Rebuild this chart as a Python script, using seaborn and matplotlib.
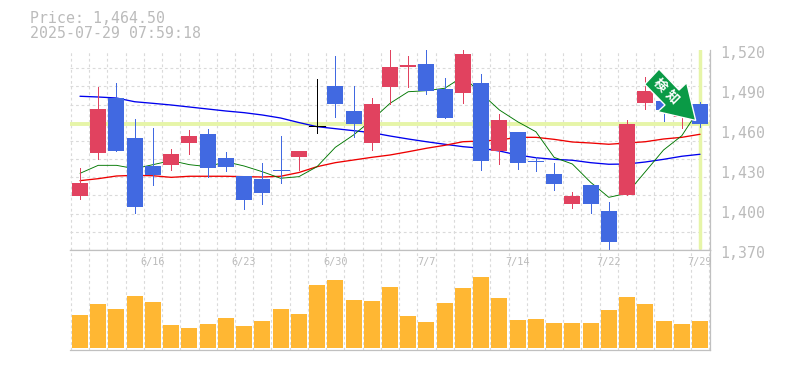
import numpy as np
import pandas as pd
import matplotlib
matplotlib.use("Agg")
import matplotlib.pyplot as plt
from matplotlib.patches import Polygon
from matplotlib.transforms import ScaledTranslation
import seaborn as sns

# ============================
# DATA
# ============================
opens = [1410.5, 1442.75, 1484, 1454, 1433, 1433.75, 1450.25, 1457, 1439, 1425.5, 1423.25, 1430.2,
         1439.75, 1463, 1493, 1474.25, 1450.25, 1492.25, 1507.25, 1509.5, 1490.75, 1487.75,
         1495.25, 1444.25, 1458.5, 1437, 1427, 1404.5, 1418.75, 1399.25, 1411.25, 1480.25,
         1481.75, 1470, 1479.5]
closes = [1420.25, 1475.75, 1444.25, 1402.25, 1426.25, 1442, 1455.5, 1431.5, 1432.25, 1407.5, 1412.75, 1429.8,
          1444.25, 1463, 1479.5, 1464.5, 1479.5, 1507.25, 1508.75, 1489.25, 1469, 1517,
          1436.75, 1467.5, 1435.25, 1436, 1419.5, 1410.5, 1404.5, 1376, 1464.5, 1489.25,
          1475, 1476, 1464.5]
highs = [1431.5, 1492.25, 1495.25, 1468.25, 1461.5, 1445.75, 1460, 1460.75, 1443.5, 1425.5, 1435.25, 1455.5,
         1444.25, 1498.25, 1515.5, 1493, 1484, 1520, 1515.5, 1520, 1499, 1520,
         1502, 1472, 1458.5, 1439.75, 1435.25, 1413.5, 1418.75, 1406, 1467.5, 1499.75,
         1486, 1480, 1481]
lows = [1408.25, 1438.25, 1444.25, 1397.75, 1418.75, 1430, 1442, 1424.75, 1429.25, 1400.75, 1404.5, 1420.25,
        1430, 1457.75, 1469.75, 1454.75, 1445, 1479.5, 1492.25, 1487, 1469, 1480.25,
        1430, 1434.5, 1430.75, 1429.25, 1415, 1401.5, 1397.75, 1369.25, 1411.25, 1475.75,
        1466.75, 1461.5, 1462]
ma_short = [1427.5, 1433.5, 1433.5, 1431, 1434, 1437, 1434, 1432.5, 1436.2, 1433, 1428.7, 1423.8,
            1425, 1432.5, 1447, 1456.25, 1467.5, 1480, 1488.7, 1489.5, 1491.3, 1500,
            1487.5, 1475, 1466.2, 1458.7, 1439.5, 1434.5, 1420.8, 1409.5, 1412.5, 1428.7,
            1445, 1455.7, 1476.5]
ma_mid = [1422, 1423.5, 1425.5, 1426, 1425.7, 1424.5, 1425.3, 1425.3, 1425.3, 1425, 1424.75, 1425.3,
          1428.1, 1432.5, 1435.5, 1437.5, 1439.5, 1441.25, 1443.7, 1446.3, 1448.5, 1451.2,
          1451.75, 1452.5, 1454.5, 1454.5, 1453, 1451, 1450.25, 1449.3, 1450.25, 1451.2,
          1453.25, 1454.5, 1456.8]
ma_long = [1485.3, 1484.75, 1484, 1481.2, 1480, 1478.75, 1477.25, 1475.75, 1474.25, 1473, 1471.25, 1469,
           1465.6, 1462.5, 1461, 1459.5, 1458, 1455.5, 1453.25, 1451.2, 1449.3, 1447.5,
           1446.3, 1444.25, 1441.25, 1439.2, 1438, 1437.3, 1435.5, 1434.3, 1434.5, 1436,
           1438, 1440.3, 1441.8]
volumes = [33, 44, 39, 52, 46, 23, 20, 24, 30, 22, 27, 39, 34, 63, 68, 48, 47, 61,
           32, 26, 45, 60, 71, 50, 28, 29, 25, 25, 25, 38, 51, 44, 27, 24, 27]
date_labels = ["6/16", "6/23", "6/30", "7/7", "7/14", "7/22", "7/29"]
date_pos = [4, 9, 14, 19, 24, 29, 34]
price_ticks = [1520, 1490, 1460, 1430, 1400, 1370]
last_price = 1464.5

RED = "#E1425F"
BLUE = "#4169E1"
ORANGE = "#FFB733"
BAND = "#E6F5A8"
GRID = "#DADADA"
TEXT = "#BBBBBB"
FRAME = "#C0C0C0"
ARROW = "#0A9A46"
W, H = 785, 370

sns.set_theme(style="white")
plt.rcParams["font.family"] = ["DejaVu Sans Mono", "Noto Sans CJK JP"]

df = pd.DataFrame({"i": np.arange(len(opens)), "open": opens, "close": closes, "high": highs,
                   "low": lows, "short": ma_short, "mid": ma_mid, "long": ma_long, "vol": volumes})

fig = plt.figure(figsize=(W / 100, H / 100), dpi=100)
ax = fig.add_axes([70 / W, 1 - 250 / H, 640 / W, 200 / H])
ax2 = fig.add_axes([70 / W, 1 - 350 / H, 640 / W, 100 / H])

xlim = (-0.548, 34.548)

# ----- price panel -----
ax.axhline(last_price, color=BAND, lw=2.8, zorder=1.5)
ax.axvline(34, ymin=0.01, ymax=1, color=BAND, lw=2.5, zorder=1.5)
sns.lineplot(data=df, x="i", y="long", color="#0000EE", lw=0.95, ax=ax, zorder=2)
sns.lineplot(data=df, x="i", y="mid", color="#EE0000", lw=0.95, ax=ax, zorder=2)
sns.lineplot(data=df, x="i", y="short", color="#007700", lw=0.65, ax=ax, zorder=2)

for row in df.itertuples():
    if row.open == row.close:
        col = "black"
    elif row.close > row.open:
        col = RED
    else:
        col = BLUE
    ax.vlines(row.i, row.low, row.high, color=col, lw=0.6, antialiased=False, zorder=3)
    body = abs(row.close - row.open)
    if body < 1:
        ax.hlines((row.open + row.close) / 2, row.i - 0.44, row.i + 0.44, color=col, lw=0.7,
                  antialiased=False, zorder=3)
    else:
        ax.bar(row.i, body, bottom=min(row.open, row.close), width=0.877, color=col, lw=0,
               antialiased=False, zorder=3)

ax.set_xlim(xlim)
ax.set_ylim(1370, 1520)
ax.set_yticks(price_ticks)
ax.set_yticklabels([f"{t:,}" for t in price_ticks], color=TEXT, fontsize=10.7)
ax.yaxis.tick_right()
ax.tick_params(axis="y", length=0, pad=7)
shift = ScaledTranslation(0, -3 / 100, fig.dpi_scale_trans)
for lab in ax.get_yticklabels():
    lab.set_va("center")
    lab.set_transform(lab.get_transform() + shift)
ax.set_xticks(np.arange(-0.5, 35, 1))
ax.set_xticklabels([])
ax.tick_params(axis="x", length=0)
ax.set_yticks(np.linspace(1370, 1520, 12), minor=True)
ax.tick_params(axis="y", which="minor", length=0)
ax.grid(True, axis="x", color=GRID, ls=(0, (2.5, 2.5)), lw=0.8)
ax.grid(True, axis="y", which="minor", color=GRID, ls=(0, (2.5, 2.5)), lw=0.8)
ax.grid(False, axis="y", which="major")
for tick in ax.yaxis.get_minor_ticks():
    tick.gridline.set_clip_on(False)
ax.set_axisbelow(True)
ax.set_xlabel("")
ax.set_ylabel("")

# ----- volume panel -----
sns.barplot(data=df, x="i", y="vol", native_scale=True, color=ORANGE, saturation=1,
            width=0.877, linewidth=0, antialiased=False, ax=ax2, zorder=3)
ax2.set_xlim(xlim)
ax2.set_ylim(-2, 98)
ax2.set_yticks([])
ax2.set_xticks(np.arange(-0.5, 35, 1))
ax2.set_xticklabels([])
ax2.tick_params(axis="x", length=0)
ax2.grid(True, axis="x", color=GRID, ls=(0, (2.5, 2.5)), lw=0.8)
ax2.set_axisbelow(True)
ax2.set_xlabel("")
ax2.set_ylabel("")
for p, lab in zip(date_pos, date_labels):
    ax2.text(p, 86, lab, color=TEXT, fontsize=7.4, ha="center", va="center", zorder=4)

# frames: solid on the right and between/below panels, grid lines elsewhere
for a in (ax, ax2):
    a.spines["left"].set_visible(False)
    a.spines["top"].set_visible(False)
    a.spines["right"].set_color(FRAME)
    a.spines["bottom"].set_color(FRAME)
    a.spines["right"].set_linewidth(0.9)
    a.spines["bottom"].set_linewidth(0.9)
ax2.spines["top"].set_visible(True)
ax2.spines["top"].set_color(FRAME)
ax2.spines["top"].set_linewidth(0.9)

# header
fig.text(30 / W, 1 - 18.5 / H, "Price: 1,464.50", color=TEXT, fontsize=10.7, va="center")
fig.text(30 / W, 1 - 33 / H, "2025-07-29 07:59:18", color=TEXT, fontsize=10.7, va="center")

# arrow badge sitting over the last candles (pixel positions of the picture)
badge = [(659, 69), (644.7, 84.3), (665, 105), (657.7, 111.7), (695.7, 120.5), (686.7, 82.7), (679, 90)]
fig.add_artist(Polygon([(x / W, 1 - y / H) for x, y in badge], closed=True, transform=fig.transFigure,
                       facecolor=ARROW, edgecolor="white", lw=1.0, zorder=10))
fig.text(660 / W, 1 - 85 / H, "検", color="white", fontsize=9.5, fontweight="bold", rotation=-45,
         ha="center", va="center", family=["Noto Sans CJK JP"], zorder=11)
fig.text(672 / W, 1 - 97 / H, "知", color="white", fontsize=9.5, fontweight="bold", rotation=-45,
         ha="center", va="center", family=["Noto Sans CJK JP"], zorder=11)

plt.savefig("out.png", dpi=100)
plt.close()
